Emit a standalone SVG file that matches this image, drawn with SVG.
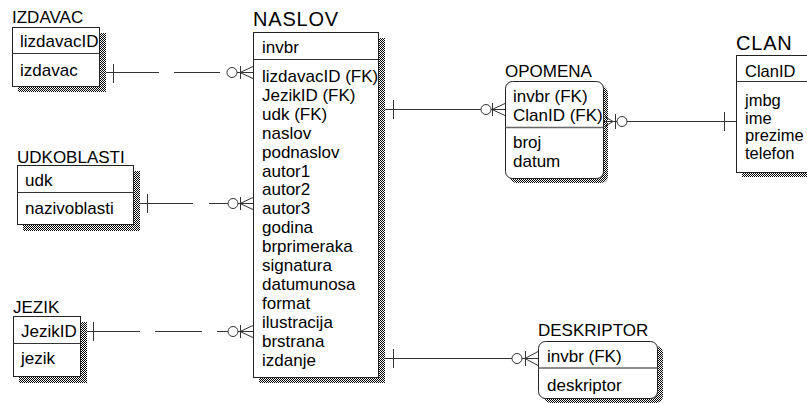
<svg xmlns="http://www.w3.org/2000/svg" width="807" height="403" viewBox="0 0 807 403">
<defs>
<pattern id="dither" width="2" height="2" patternUnits="userSpaceOnUse">
<rect width="2" height="2" fill="#fff"/>
<rect width="1" height="1" fill="#000"/>
<rect x="1" y="1" width="1" height="1" fill="#000"/>
</pattern>
</defs>
<style>
.box{fill:#fff;stroke:#222;stroke-width:1}
.shadow{fill:url(#dither)}
.div{stroke:#333;stroke-width:1}
.rdiv{stroke:#666;stroke-width:1.5}
text{font-family:"Liberation Sans",Arial,sans-serif;font-size:17px;fill:#000}
.title{font-size:17px}
.big{font-size:20px;letter-spacing:0.8px}
.conn line,.conn path{stroke:#333;stroke-width:1;fill:none}
.conn circle{stroke:#333;stroke-width:1;fill:#fff}
</style>
<rect width="807" height="403" fill="#fff"/>

<g id="IZDAVAC">
<rect class="shadow" x="18" y="33" width="88" height="59"/>
<rect class="box" x="12.5" y="27.5" width="87" height="59"/>
<line class="div" x1="12.5" y1="53.5" x2="99.5" y2="53.5"/>
<text class="title" x="12" y="23">IZDAVAC</text>
<text x="20" y="47">lizdavacID</text>
<text x="20" y="76">izdavac</text>
</g>

<g id="NASLOV">
<rect class="shadow" x="259" y="38" width="126" height="345"/>
<rect class="box" x="253.5" y="32.5" width="125" height="345"/>
<line class="div" x1="253.5" y1="59.5" x2="378.5" y2="59.5"/>
<text class="big" x="253" y="26">NASLOV</text>
<text x="262" y="53">invbr</text>
<text x="262" y="82">lizdavacID (FK)</text>
<text x="262" y="100.9">JezikID (FK)</text>
<text x="262" y="119.8">udk (FK)</text>
<text x="262" y="138.7">naslov</text>
<text x="262" y="157.6">podnaslov</text>
<text x="262" y="176.5">autor1</text>
<text x="262" y="195.4">autor2</text>
<text x="262" y="214.3">autor3</text>
<text x="262" y="233.2">godina</text>
<text x="262" y="252.1">brprimeraka</text>
<text x="262" y="271">signatura</text>
<text x="262" y="289.9">datumunosa</text>
<text x="262" y="308.8">format</text>
<text x="262" y="327.7">ilustracija</text>
<text x="262" y="346.6">brstrana</text>
<text x="262" y="365.5">izdanje</text>
</g>

<g id="OPOMENA">
<rect class="shadow" x="510" y="86" width="98" height="97" rx="7"/>
<rect class="box" x="505.5" y="81.5" width="98" height="97" rx="7"/>
<line class="rdiv" x1="505.5" y1="127.5" x2="603.5" y2="127.5"/>
<text class="title" x="505" y="77">OPOMENA</text>
<text x="513" y="102">invbr (FK)</text>
<text x="513" y="121">ClanID (FK)</text>
<text x="513" y="148">broj</text>
<text x="513" y="167">datum</text>
</g>

<g id="CLAN">
<rect class="shadow" x="742" y="60" width="100" height="117"/>
<rect class="box" x="736.5" y="55.5" width="100" height="117"/>
<line class="div" x1="736.5" y1="81.5" x2="836.5" y2="81.5"/>
<text class="big" x="736" y="50">CLAN</text>
<text x="745" y="77" style="font-size:16.5px">ClanID</text>
<text x="745" y="106" style="font-size:16.5px">jmbg</text>
<text x="745" y="123.5" style="font-size:16.5px">ime</text>
<text x="745" y="141" style="font-size:16.5px">prezime</text>
<text x="745" y="158.5" style="font-size:16.5px">telefon</text>
</g>

<g id="UDKOBLASTI">
<rect class="shadow" x="23" y="171" width="117" height="60"/>
<rect class="box" x="17.5" y="165.5" width="116" height="59"/>
<line class="div" x1="17.5" y1="192.5" x2="133.5" y2="192.5"/>
<text class="title" x="17" y="163">UDKOBLASTI</text>
<text x="25" y="186">udk</text>
<text x="25" y="214">nazivoblasti</text>
</g>

<g id="JEZIK">
<rect class="shadow" x="19" y="322" width="68" height="61"/>
<rect class="box" x="13.5" y="316.5" width="67" height="60"/>
<line class="div" x1="13.5" y1="343.5" x2="80.5" y2="343.5"/>
<text class="title" x="13" y="313">JEZIK</text>
<text x="21" y="337">JezikID</text>
<text x="21" y="364">jezik</text>
</g>

<g id="DESKRIPTOR">
<rect class="shadow" x="544" y="346" width="119" height="57" rx="7"/>
<rect class="box" x="538.5" y="341.5" width="119" height="57" rx="7"/>
<line class="rdiv" x1="538.5" y1="368" x2="657.5" y2="368"/>
<text class="title" x="538" y="336">DESKRIPTOR</text>
<text x="547" y="362">invbr (FK)</text>
<text x="547" y="391">deskriptor</text>
</g>

<g id="connectors" class="conn">
<!-- IZDAVAC - NASLOV -->
<g id="c-izdavac-naslov">
<line x1="106" y1="72.5" x2="159" y2="72.5"/>
<line x1="174" y1="72.5" x2="220" y2="72.5"/>
<line x1="113.5" y1="64" x2="113.5" y2="83"/>
<line x1="237" y1="72.5" x2="253" y2="72.5"/>
<circle cx="232" cy="72.5" r="5"/>
<line x1="240.5" y1="66" x2="240.5" y2="79"/>
<path d="M240,72.5 L253,66.5 M240,72.5 L253,78.5"/>
</g>
<!-- UDKOBLASTI - NASLOV -->
<g id="c-udk-naslov">
<line x1="140" y1="203.5" x2="193" y2="203.5"/>
<line x1="209" y1="203.5" x2="228" y2="203.5"/>
<line x1="147.5" y1="194" x2="147.5" y2="213"/>
<line x1="238" y1="203.5" x2="253" y2="203.5"/>
<circle cx="233" cy="203.5" r="5"/>
<line x1="240.5" y1="197" x2="240.5" y2="210"/>
<path d="M240,203.5 L253,197.5 M240,203.5 L253,209.5"/>
</g>
<!-- JEZIK - NASLOV -->
<g id="c-jezik-naslov">
<line x1="87" y1="331.5" x2="140" y2="331.5"/>
<line x1="155" y1="331.5" x2="202" y2="331.5"/>
<line x1="217" y1="331.5" x2="228" y2="331.5"/>
<line x1="93.5" y1="322" x2="93.5" y2="341"/>
<line x1="238" y1="331.5" x2="253" y2="331.5"/>
<circle cx="233" cy="331.5" r="5"/>
<line x1="240.5" y1="325" x2="240.5" y2="338"/>
<path d="M240,331.5 L253,325.5 M240,331.5 L253,337.5"/>
</g>
<!-- NASLOV - OPOMENA -->
<g id="c-naslov-opomena">
<line x1="385" y1="109.5" x2="481" y2="109.5"/>
<line x1="393.5" y1="100" x2="393.5" y2="119"/>
<line x1="491" y1="109.5" x2="505" y2="109.5"/>
<circle cx="486" cy="109.5" r="5"/>
<line x1="492.5" y1="103" x2="492.5" y2="116"/>
<path d="M492,109.5 L505,103.5 M492,109.5 L505,115.5"/>
</g>
<!-- OPOMENA - CLAN -->
<g id="c-opomena-clan">
<path d="M603,115.5 L613,121.5 L603,127.5 M603,121.5 L617,121.5"/>
<line x1="615.5" y1="114" x2="615.5" y2="129"/>
<circle cx="622" cy="121.5" r="5"/>
<line x1="627" y1="121.5" x2="736" y2="121.5"/>
<line x1="724.5" y1="112" x2="724.5" y2="131"/>
</g>
<!-- NASLOV - DESKRIPTOR -->
<g id="c-naslov-deskriptor">
<line x1="385" y1="358.5" x2="512" y2="358.5"/>
<line x1="393.5" y1="349" x2="393.5" y2="368"/>
<line x1="522" y1="358.5" x2="538" y2="358.5"/>
<circle cx="517" cy="358.5" r="5"/>
<line x1="525.5" y1="351" x2="525.5" y2="366"/>
<path d="M525,358.5 L538,351.5 M525,358.5 L538,365.5"/>
</g>
</g>
</svg>
